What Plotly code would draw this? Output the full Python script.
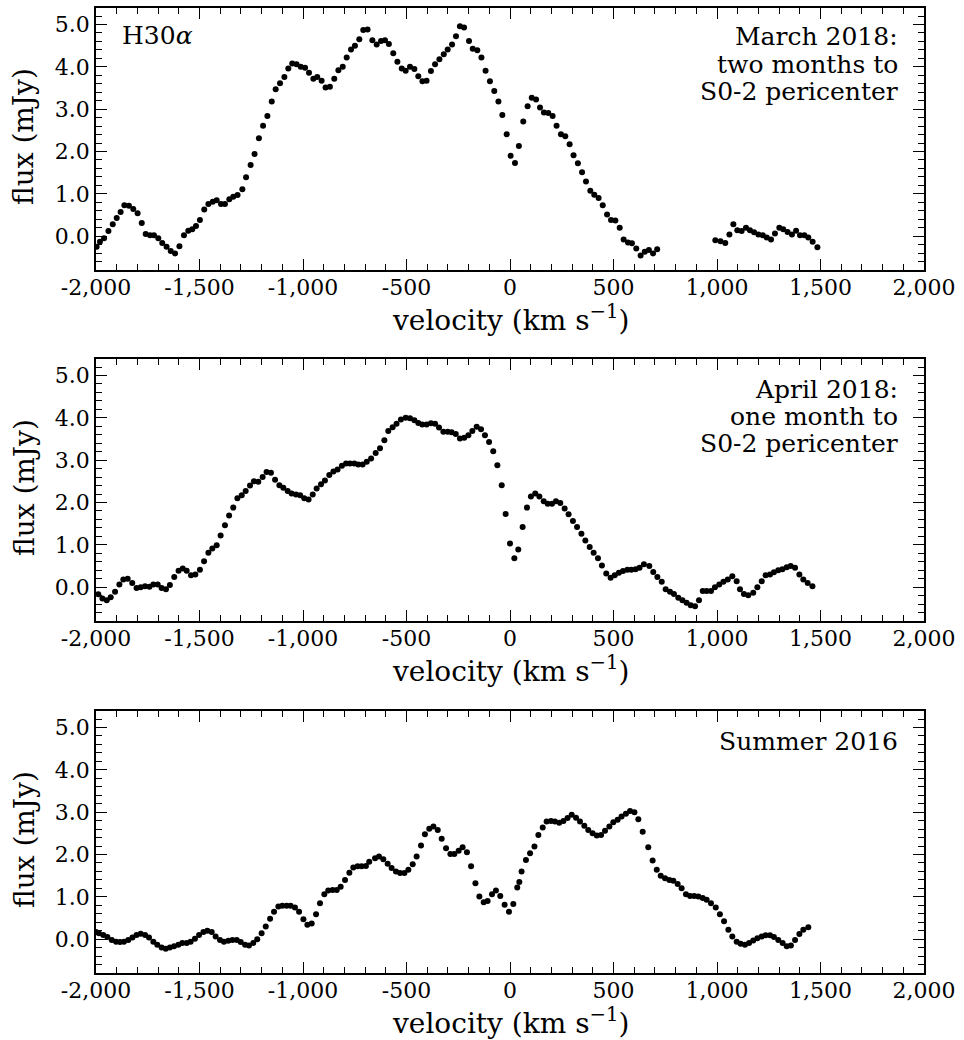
import plotly.graph_objects as go

# ---------------- data ----------------
vel_mar2018 = [-1997, -1981, -1961, -1940, -1919, -1900, -1881, -1863, -1841, -1820,
               -1799, -1779, -1760, -1739, -1720, -1699, -1680, -1659, -1639, -1618,
               -1597, -1575, -1554, -1535, -1517, -1498, -1477, -1457, -1436, -1417,
               -1396, -1377, -1356, -1337, -1316, -1293, -1275, -1253, -1234, -1213,
               -1193, -1172, -1151, -1132, -1111, -1090, -1071, -1052, -1031, -1011,
               -990, -971, -950, -931, -910, -891, -870, -849, -829, -808,
               -789, -768, -749, -728, -709, -688,
               -665, -644, -623, -604, -585, -564, -544, -523, -504, -483,
               -462, -443, -423, -403, -382, -362, -341, -320, -301, -280,
               -261, -242, -222, -198, -180, -158, -138, -118, -97, -76,
               -56, -37, -16, 3, 24, 43, 64, 85, 105, 126,
               145, 164, 185, 206, 225, 246, 267, 288, 307, 328,
               348, 367, 388, 407, 428, 448, 469, 488, 509, 530,
               549, 570, 589, 610, 631, 651, 671, 691, 711,
               992, 1017, 1040, 1060, 1079, 1098, 1119, 1140, 1159, 1179,
               1200, 1221, 1240, 1261, 1280, 1301, 1320, 1341, 1362, 1382,
               1401, 1422, 1441, 1462, 1485]
flux_mar2018 = [-0.25, -0.13, -0.05, 0.12, 0.28, 0.43, 0.57, 0.73, 0.72, 0.64,
                0.54, 0.31, 0.05, 0.02, 0.02, -0.05, -0.16, -0.25, -0.35, -0.41,
                -0.24, 0.02, 0.13, 0.16, 0.24, 0.38, 0.63, 0.76, 0.81, 0.85,
                0.76, 0.76, 0.87, 0.93, 0.97, 1.11, 1.39, 1.68, 1.94, 2.31,
                2.61, 2.84, 3.18, 3.47, 3.61, 3.76, 3.96, 4.08, 4.06, 4.00,
                3.98, 3.86, 3.72, 3.76, 3.67, 3.51, 3.53, 3.72, 3.92, 4.00,
                4.22, 4.41, 4.50, 4.65, 4.87, 4.88,
                4.63, 4.53, 4.61, 4.63, 4.54, 4.32, 4.12, 3.96, 3.91, 4.00,
                3.95, 3.78, 3.66, 3.67, 3.90, 4.06, 4.18, 4.30, 4.41, 4.53,
                4.72, 4.96, 4.93, 4.61, 4.43, 4.39, 4.22, 3.91, 3.66, 3.43,
                3.18, 2.86, 2.41, 1.90, 1.73, 2.13, 2.71, 3.07, 3.27, 3.23,
                3.04, 2.92, 2.91, 2.84, 2.61, 2.41, 2.36, 2.17, 1.91, 1.72,
                1.51, 1.29, 1.07, 0.98, 0.90, 0.73, 0.51, 0.38, 0.37, 0.20,
                -0.08, -0.15, -0.17, -0.29, -0.46, -0.37, -0.33, -0.41, -0.31,
                -0.10, -0.12, -0.16, 0.04, 0.28, 0.14, 0.12, 0.20, 0.14, 0.09,
                0.04, 0.02, -0.03, -0.08, 0.06, 0.20, 0.16, 0.10, 0.04, 0.13,
                0.02, 0.02, -0.03, -0.13, -0.26]

vel_apr2018 = [-1989, -1969, -1948, -1929, -1908, -1887, -1868, -1847, -1825, -1804,
               -1784, -1763, -1742, -1723, -1702, -1683, -1662, -1643, -1622, -1601,
               -1581, -1562, -1541, -1520, -1498, -1478, -1457, -1438, -1417, -1398,
               -1377, -1357, -1337, -1317, -1296, -1277, -1256, -1237, -1216, -1195,
               -1176, -1155, -1135, -1114, -1095, -1074, -1055, -1034, -1014, -994,
               -973, -953, -934, -913, -894, -873, -853, -833, -812, -792,
               -773, -752, -733, -712, -692, -671,
               -649, -628, -607, -588, -567, -548, -527, -504, -483, -462,
               -443, -424, -403, -382, -362, -343, -322, -301, -282, -262,
               -242, -221, -201, -182, -161, -140, -121, -101, -81, -61,
               -40, -21, 0, 21, 40, 61, 82, 101, 122, 142,
               163, 182, 203, 222, 243, 264, 283, 304, 324, 345,
               364, 385, 404, 425, 444, 465, 486, 506, 526, 546,
               567, 586, 607, 626, 647,
               673, 692, 712, 733, 752, 773, 792, 813, 833, 853,
               873, 894, 913, 931, 950, 971, 990, 1011, 1031, 1052,
               1074, 1095, 1111, 1130, 1151, 1175, 1195, 1216, 1235, 1256,
               1275, 1296, 1316, 1337, 1356, 1377, 1398, 1417, 1438, 1461]
flux_apr2018 = [-0.17, -0.27, -0.31, -0.24, -0.11, 0.06, 0.18, 0.20, 0.10, -0.02,
                0.00, 0.02, 0.01, 0.06, 0.06, -0.02, -0.05, 0.05, 0.24, 0.39,
                0.44, 0.39, 0.28, 0.30, 0.41, 0.61, 0.81, 0.91, 0.99, 1.22,
                1.46, 1.69, 1.88, 2.10, 2.17, 2.27, 2.40, 2.50, 2.49, 2.60,
                2.72, 2.70, 2.54, 2.41, 2.35, 2.27, 2.21, 2.19, 2.17, 2.10,
                2.07, 2.19, 2.33, 2.43, 2.52, 2.65, 2.73, 2.78, 2.87, 2.92,
                2.92, 2.92, 2.90, 2.90, 2.96, 3.04,
                3.17, 3.28, 3.47, 3.69, 3.78, 3.86, 3.96, 4.00, 3.99, 3.94,
                3.88, 3.84, 3.84, 3.87, 3.86, 3.77, 3.67, 3.67, 3.66, 3.62,
                3.51, 3.53, 3.59, 3.69, 3.79, 3.73, 3.59, 3.43, 3.21, 2.88,
                2.41, 1.73, 1.03, 0.68, 0.89, 1.42, 1.88, 2.14, 2.21, 2.14,
                2.03, 1.97, 1.97, 2.03, 1.99, 1.86, 1.72, 1.56, 1.42, 1.26,
                1.10, 0.95, 0.81, 0.68, 0.51, 0.32, 0.22, 0.28, 0.34, 0.38,
                0.41, 0.41, 0.42, 0.46, 0.54,
                0.50, 0.36, 0.24, 0.13, -0.05, -0.11, -0.16, -0.25, -0.31, -0.37,
                -0.43, -0.45, -0.31, -0.09, -0.09, -0.09, 0.00, 0.06, 0.13, 0.18,
                0.26, 0.14, -0.05, -0.16, -0.19, -0.13, 0.00, 0.14, 0.28, 0.30,
                0.35, 0.40, 0.42, 0.47, 0.50, 0.46, 0.30, 0.18, 0.10, 0.02]

vel_sum2016 = [-2000, -1986, -1965, -1945, -1924, -1903, -1884, -1865, -1844, -1824,
               -1804, -1784, -1763, -1744, -1723, -1704, -1683, -1663, -1643, -1623,
               -1602, -1583, -1562, -1543, -1522, -1502, -1481, -1462, -1441, -1422,
               -1401, -1382, -1361, -1341, -1320, -1301, -1280, -1261, -1240, -1221,
               -1200, -1180, -1159, -1140, -1119, -1100, -1079, -1060, -1039, -1019,
               -998, -979, -958, -937, -918, -897, -878, -857, -837, -818,
               -797, -776, -757, -736, -717, -696, -680,
               -652, -633, -612, -591, -572, -551, -531, -510, -491, -470,
               -451, -430, -411, -390, -370, -349, -330, -309, -288, -269,
               -248, -229, -208, -188, -167, -148, -127, -108, -87, -68,
               -47, -26, -5, 16, 35, 45, 56, 77, 97, 118,
               137, 158, 177, 198, 217, 238, 258, 278, 298, 319,
               338, 359, 378, 399, 419, 440, 459, 480, 499, 520,
               539, 560, 580, 601, 620, 641,
               668, 689, 709, 728, 749, 770, 789, 810, 829, 850,
               870, 890, 910, 931, 950, 971, 994, 1014, 1034, 1055,
               1074, 1095, 1114, 1135, 1155, 1175, 1195, 1216, 1235, 1256,
               1275, 1296, 1317, 1337, 1357, 1377, 1398, 1417, 1441]
flux_sum2016 = [0.17, 0.14, 0.10, 0.05, -0.02, -0.06, -0.07, -0.06, -0.02, 0.04,
                0.10, 0.13, 0.10, 0.04, -0.06, -0.13, -0.20, -0.23, -0.20, -0.17,
                -0.13, -0.09, -0.09, -0.06, 0.01, 0.10, 0.17, 0.20, 0.17, 0.06,
                -0.02, -0.06, -0.04, -0.02, -0.02, -0.07, -0.13, -0.15, -0.09, 0.00,
                0.14, 0.30, 0.48, 0.65, 0.77, 0.79, 0.79, 0.79, 0.75, 0.65,
                0.47, 0.34, 0.37, 0.59, 0.85, 1.06, 1.15, 1.16, 1.16, 1.24,
                1.40, 1.57, 1.69, 1.72, 1.72, 1.73, 1.83,
                1.91, 1.95, 1.89, 1.78, 1.68, 1.60, 1.56, 1.56, 1.64, 1.77,
                1.95, 2.21, 2.48, 2.61, 2.66, 2.58, 2.37, 2.15, 2.01, 2.01,
                2.09, 2.17, 2.05, 1.72, 1.32, 1.01, 0.87, 0.90, 1.06, 1.15,
                1.02, 0.81, 0.65, 0.83, 1.22, 1.35, 1.60, 1.87, 2.03, 2.19,
                2.46, 2.64, 2.78, 2.79, 2.78, 2.75, 2.79, 2.86, 2.94, 2.87,
                2.78, 2.68, 2.58, 2.50, 2.45, 2.46, 2.56, 2.66, 2.76, 2.82,
                2.90, 2.96, 3.03, 3.00, 2.83, 2.54,
                2.17, 1.86, 1.64, 1.50, 1.44, 1.40, 1.38, 1.30, 1.20, 1.06,
                1.02, 1.02, 1.01, 0.97, 0.93, 0.85, 0.75, 0.59, 0.42, 0.22,
                0.06, -0.06, -0.11, -0.13, -0.09, -0.03, 0.02, 0.06, 0.09, 0.09,
                0.05, -0.02, -0.09, -0.17, -0.15, -0.02, 0.12, 0.22, 0.28]

panel_labels = [["March 2018:", "two months to", "S0-2 pericenter"],
                ["April 2018:", "one month to", "S0-2 pericenter"],
                ["Summer 2016"]]
line_label = "H30<i>α</i>"

xtick_vals = [-2000, -1500, -1000, -500, 0, 500, 1000, 1500, 2000]
xtick_text = ["-2,000", "-1,500", "-1,000", "-500", "0", "500", "1,000", "1,500", "2,000"]
ytick_vals = [0, 1, 2, 3, 4, 5]
ytick_text = ["0.0", "1.0", "2.0", "3.0", "4.0", "5.0"]

x_title = "velocity (km s<sup>\u22121</sup>)"
y_title = "flux (mJy)"

# ---------------- layout ----------------
W, H = 964, 1040
FONT = "DejaVu Serif"
FS_TICK = 22
FS_TITLE = 28
FS_LABEL = 25
PX_L, PX_R = 96, 924
panel_px = [(8, 270), (359, 621), (711, 973)]   # top, bottom in pixels
label_first_center = [37, 389, 741]              # pixel centre of first label line
LINE_STEP = 27


def py(p):
    return 1 - p / H


fig = go.Figure()
annotations = []
for i, (v, f) in enumerate([(vel_mar2018, flux_mar2018),
                            (vel_apr2018, flux_apr2018),
                            (vel_sum2016, flux_sum2016)]):
    n = "" if i == 0 else str(i + 1)
    top, bot = panel_px[i]
    fig.add_trace(go.Scatter(x=v, y=f, mode="markers",
                             marker=dict(color="black", size=6, line=dict(width=0)),
                             xaxis="x" + n, yaxis="y" + n, showlegend=False,
                             hoverinfo="skip"))
    common = dict(showline=True, linecolor="black", linewidth=1.5, mirror="ticks",
                  ticks="inside", ticklen=11, tickwidth=1.3, tickcolor="black",
                  showgrid=False, zeroline=False, automargin=False,
                  tickfont=dict(family=FONT, size=FS_TICK, color="black"))
    fig.layout["xaxis" + n] = dict(
        domain=[PX_L / W, PX_R / W], range=[-2000, 2000], anchor="y" + n,
        tickmode="array", tickvals=xtick_vals, ticktext=xtick_text,
        ticklabelstandoff=-3,
        minor=dict(tickmode="linear", tick0=0, dtick=100, ticks="inside",
                   ticklen=6, tickwidth=1, tickcolor="black"),
        **common)
    fig.layout["yaxis" + n] = dict(
        domain=[py(bot), py(top)], range=[-0.8, 5.39], anchor="x" + n,
        tickmode="array", tickvals=ytick_vals, ticktext=ytick_text,
        minor=dict(tickmode="linear", tick0=0, dtick=0.2, ticks="inside",
                   ticklen=6, tickwidth=1, tickcolor="black"),
        **common)
    # axis titles
    annotations.append(dict(text=x_title, xref="paper", yref="paper",
                            x=(PX_L + PX_R) / 2 / W, y=py(bot + 48),
                            xanchor="center", yanchor="middle", showarrow=False,
                            font=dict(family=FONT, size=FS_TITLE, color="black")))
    annotations.append(dict(text=y_title, xref="paper", yref="paper",
                            x=24 / W, y=py((top + bot) / 2 - 2), textangle=-90,
                            xanchor="center", yanchor="middle", showarrow=False,
                            font=dict(family=FONT, size=FS_TITLE, color="black")))
    # panel label, one annotation per line
    for k, line in enumerate(panel_labels[i]):
        annotations.append(dict(text=line, xref="paper", yref="paper",
                                x=899 / W, y=py(label_first_center[i] + k * LINE_STEP),
                                xanchor="right", yanchor="middle", showarrow=False,
                                borderpad=0,
                                font=dict(family=FONT, size=FS_LABEL, color="black")))

annotations.append(dict(text=line_label, xref="paper", yref="paper",
                        x=120 / W, y=py(36), xanchor="left", yanchor="middle",
                        showarrow=False,
                        font=dict(family=FONT, size=FS_LABEL, color="black")))

fig.update_layout(width=W, height=H, margin=dict(l=0, r=0, t=0, b=0),
                  paper_bgcolor="white", plot_bgcolor="white",
                  annotations=annotations, showlegend=False)

fig.write_html("out.html")
